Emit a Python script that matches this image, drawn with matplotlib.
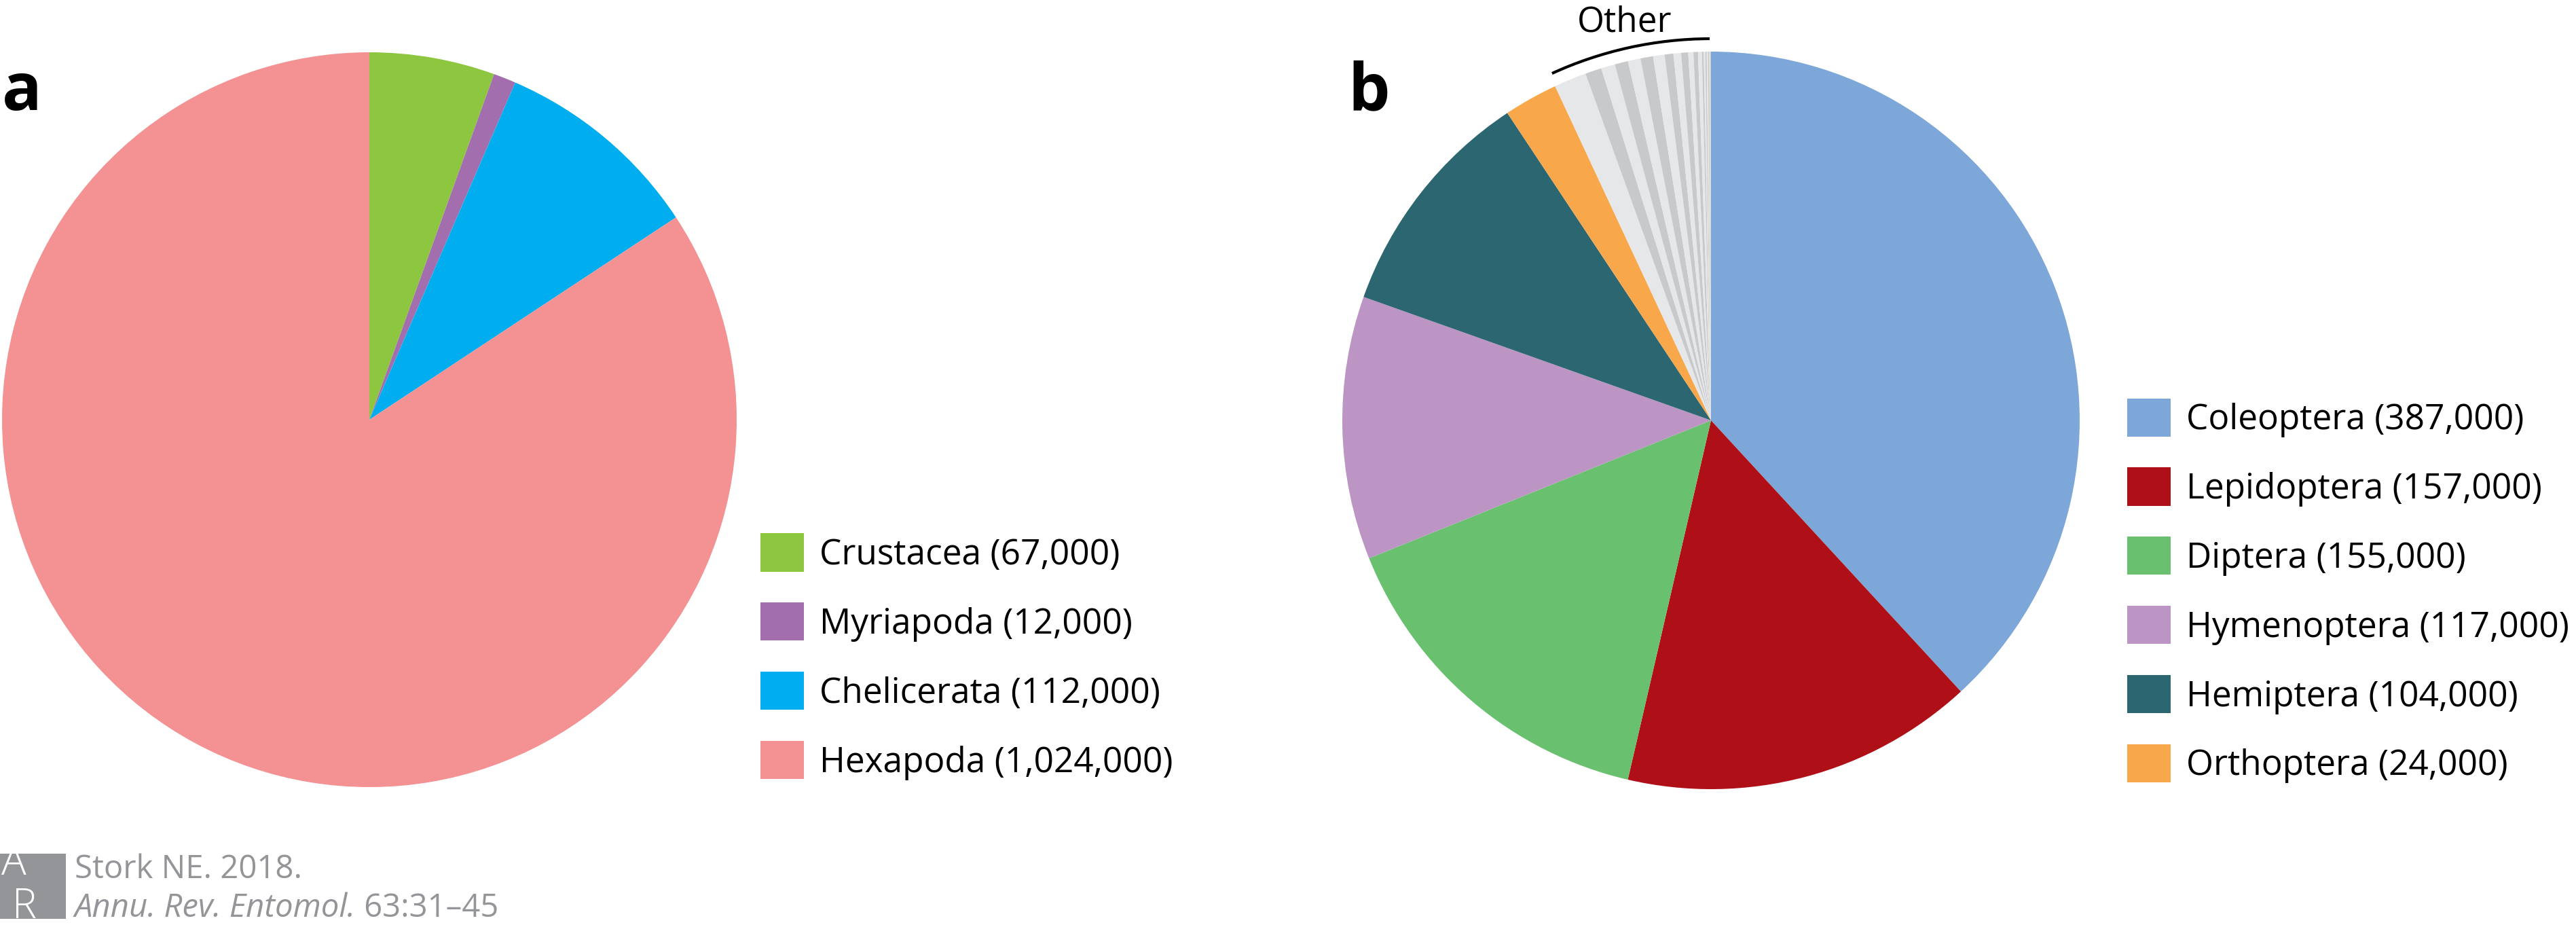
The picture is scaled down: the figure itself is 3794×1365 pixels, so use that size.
import matplotlib.pyplot as plt
from matplotlib.patches import Arc, Rectangle, Patch
import numpy as np

plt.rcParams['font.family'] = ['Open Sans', 'DejaVu Sans']

# panel a: described arthropod species (thousands)
classes = ["Crustacea", "Myriapoda", "Chelicerata", "Hexapoda"]
class_counts = [67, 12, 112, 1024]
class_colors = ["#8DC63F", "#A36EAD", "#00AEEF", "#F49193"]

# panel b: insect orders (thousands)
orders = ["Coleoptera", "Lepidoptera", "Diptera", "Hymenoptera", "Hemiptera", "Orthoptera"]
order_counts = [387, 157, 155, 117, 104, 24]
order_colors = ["#7DA7D8", "#AF1018", "#69C170", "#BC95C4", "#2C6771", "#F9A74B"]
# small orders grouped under "Other"
other_counts = [14.4, 7.3, 6.2, 5.9, 5.6, 5.6, 5.1, 3.9, 3.4, 3.1,
                2.3, 2.0, 1.7, 0.8, 0.7, 0.6, 0.6, 0.6, 0.4, 0.3]
other_shades = ["#E6E7E8", "#C8C9CB"]

W, H, DPI = 3794, 1365, 100
fig = plt.figure(figsize=(W / DPI, H / DPI), dpi=DPI)
fig.patch.set_facecolor("white")


def pie_axes(cx, cy, r):
    # square axes in pixel units, centred on (cx, cy) from top-left
    ax = fig.add_axes([(cx - r) / W, (H - cy - r) / H, 2 * r / W, 2 * r / H])
    return ax


def finish(ax):
    ax.set_xlim(-1, 1)
    ax.set_ylim(-1, 1)
    ax.set_aspect("equal")
    ax.axis("off")


# ---- panel a
ax_a = pie_axes(544, 618, 541)
ax_a.pie(class_counts, colors=class_colors, startangle=90, counterclock=False,
         radius=1, wedgeprops=dict(linewidth=0))
finish(ax_a)

# ---- panel b
ax_b = pie_axes(2520, 619, 543)
vals_b = order_counts + other_counts
cols_b = order_colors + [other_shades[i % 2] for i in range(len(other_counts))]
ax_b.pie(vals_b, colors=cols_b, startangle=90, counterclock=False,
         radius=1, wedgeprops=dict(linewidth=0))
finish(ax_b)

other_deg = sum(other_counts) / sum(vals_b) * 360
arc_r = 1.035
ax_b.add_patch(Arc((0, 0), 2 * arc_r, 2 * arc_r, theta1=90.2, theta2=90 + other_deg - 0.4,
                   color="black", lw=3, clip_on=False))
mid = np.deg2rad(90 + other_deg / 2)
ax_b.text(1.08 * np.cos(mid), 1.054, "Other", ha="center", va="baseline",
          fontsize=37, clip_on=False)

# ---- legends
leg_kw = dict(loc="center left", bbox_transform=fig.transFigure, frameon=False,
              fontsize=37, handlelength=1.24, handleheight=1.3, handletextpad=0.45,
              labelspacing=0.87, borderpad=0, borderaxespad=0)

fig.legend([Patch(facecolor=c, edgecolor="none") for c in class_colors],
           [f"{n} ({v * 1000:,})" for n, v in zip(classes, class_counts)],
           bbox_to_anchor=(1120 / W, 1 - 967 / H), **leg_kw)

fig.legend([Patch(facecolor=c, edgecolor="none") for c in order_colors],
           [f"{n} ({v * 1000:,})" for n, v in zip(orders, order_counts)],
           bbox_to_anchor=(3133 / W, 1 - 870 / H), **leg_kw)

# panel letters
fig.text(3 / W, 1 - 162 / H, "a", fontsize=70, fontweight="bold", va="baseline")
fig.text(1985 / W, 1 - 162 / H, "b", fontsize=70, fontweight="bold", va="baseline")

# ---- footer (Annual Reviews citation)
grey = "#939598"
fig.add_artist(Rectangle((0, 1 - 1353 / H), 97 / W, 96 / H, transform=fig.transFigure,
                         facecolor=grey, edgecolor="none"))
# AR logo: baseline alignment uses the last line (R)
fig.text(2 / W, 1 - 1352 / H, "A\n R", fontsize=44, color="white", va="baseline",
         linespacing=1.05, fontweight="light")
fs_foot = 34
fig.text(110 / W, 1 - 1293 / H, "Stork NE. 2018.", fontsize=fs_foot, color=grey, va="baseline")
t_it = fig.text(110 / W, 1 - 1350 / H, "Annu. Rev. Entomol.", fontsize=fs_foot, color=grey,
                style="italic", va="baseline")
bb = t_it.get_window_extent(renderer=fig.canvas.get_renderer())
fig.text(bb.x1 / W, 1 - 1350 / H, " 63:31\u201345", fontsize=fs_foot, color=grey, va="baseline")

fig.savefig("out.png", dpi=DPI)
